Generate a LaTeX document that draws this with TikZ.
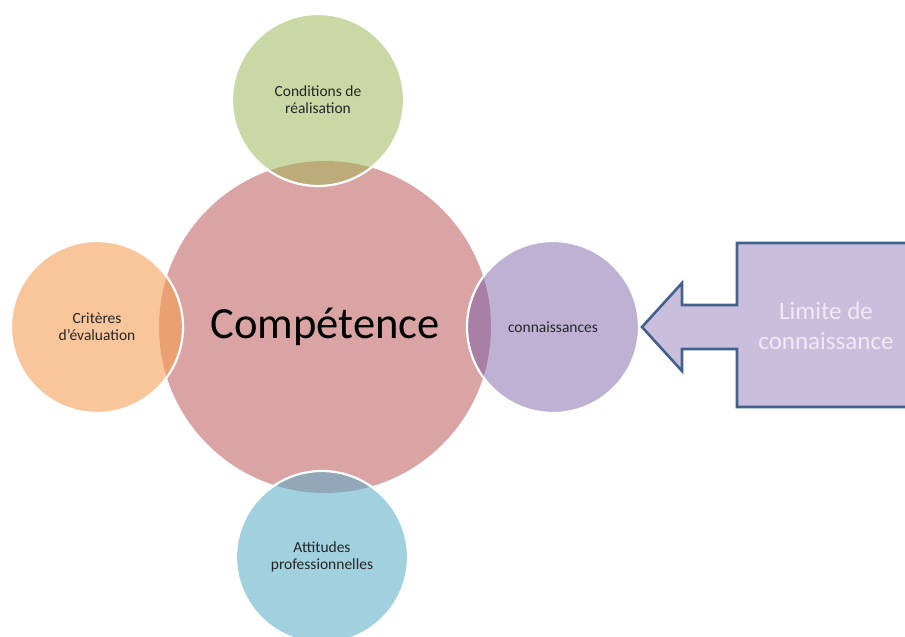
\documentclass[tikz,border=0pt]{standalone}
\usepackage{fontspec}
\setmainfont{Carlito}
\usetikzlibrary{positioning}
\definecolor{compred}{RGB}{218,164,164}
\definecolor{condgreen}{RGB}{201,216,164}
\definecolor{condover}{RGB}{188,172,122}
\definecolor{critorange}{RGB}{249,198,156}
\definecolor{critover}{RGB}{234,160,114}
\definecolor{connpurple}{RGB}{190,177,212}
\definecolor{connover}{RGB}{168,128,166}
\definecolor{attblue}{RGB}{161,208,222}
\definecolor{attover}{RGB}{146,168,184}
\definecolor{limfill}{RGB}{201,191,220}
\definecolor{limline}{RGB}{66,97,140}
\definecolor{limtext}{RGB}{238,234,246}
\tikzset{
  bubble/.style={align=center,text=black!85,font=\fontsize{15.5}{17}\selectfont},
  ring/.style={draw=white,line width=2.2pt},
}
\begin{document}
\begin{tikzpicture}[x=1pt,y=-1pt]
\useasboundingbox[fill=white] (0,0) rectangle (905,637);
\coordinate (compc) at (325,327);
\coordinate (condc) at (318,100);
\coordinate (critc) at (97,327);
\coordinate (connc) at (553,327);
\coordinate (attc) at (322,557);
% circles
\fill[compred] (compc) circle (166);
\fill[condgreen] (condc) circle (86);
\fill[critorange] (critc) circle (86);
\fill[connpurple] (connc) circle (86);
\fill[attblue] (attc) circle (86);
% overlaps
\begin{scope}
\clip (compc) circle (166);
\fill[condover] (condc) circle (86);
\fill[critover] (critc) circle (86);
\fill[connover] (connc) circle (86);
\fill[attover] (attc) circle (86);
\end{scope}
\foreach \s in {condc,critc,connc,attc}
  \draw[ring] (\s) circle (86);
% texts
\node[font=\fontsize{44.6}{50}\selectfont,text=black] (comp) at (compc) {Comp\'etence};
\node[bubble] (cond) at (condc) {Conditions de\\r\'ealisation};
\node[bubble] (crit) at (critc) {Crit\`eres\\d'\'evaluation};
\node[bubble] (conn) at (connc) {connaissances};
\node[bubble] (att) at (attc) {Attitudes\\professionnelles};
% callout
\coordinate (tip) at (642,327);
\draw[limline,fill=limfill,line width=2.6pt,line join=miter]
  (915,243) -- (737,243) -- (737,305) -- (682,305) -- (682,283) -- (tip)
  -- (682,371) -- (682,349) -- (737,349) -- (737,407) -- (915,407);
\node[align=center,text=limtext,font=\fontsize{25}{30}\selectfont] (lim) at (826,326) {Limite de\\connaissance};
\end{tikzpicture}
\end{document}
